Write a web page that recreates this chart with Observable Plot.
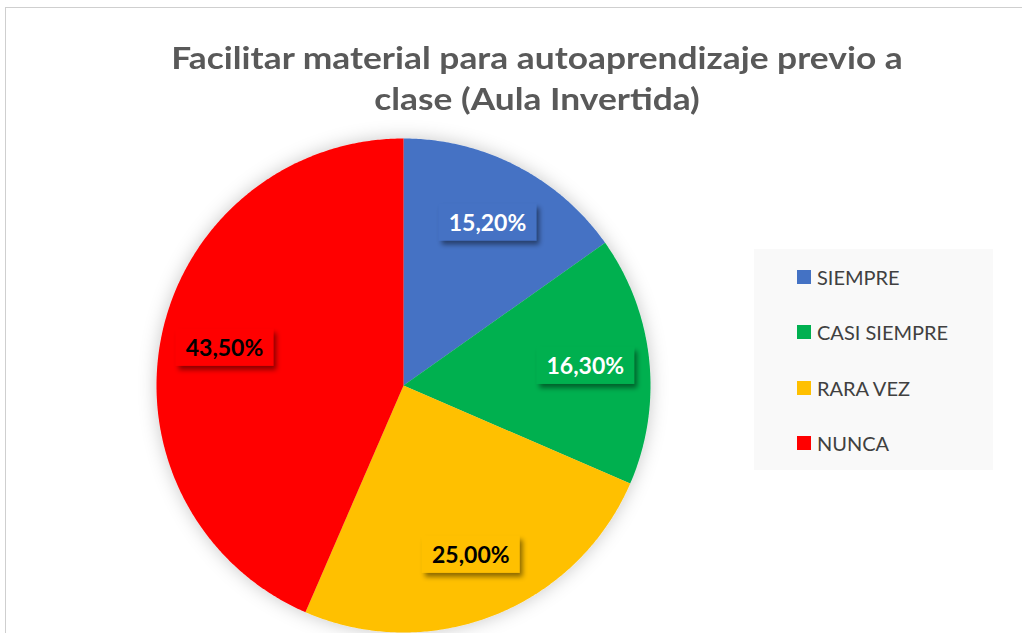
<!DOCTYPE html>
<html>
<head>
<meta charset="utf-8">
<script src="https://cdn.jsdelivr.net/npm/d3@7"></script>
<script src="https://cdn.jsdelivr.net/npm/@observablehq/plot@0.6"></script>
<style>
  html, body { margin: 0; padding: 0; background: #ffffff; }
  #wrap { position: relative; width: 1022px; height: 633px; overflow: hidden; background: #fff; font-family: Lato, "Open Sans", sans-serif; }
  #frame { position: absolute; left: 5px; top: 7px; width: 1100px; height: 700px; border-left: 1.5px solid #cfcfcf; border-top: 1.5px solid #cfcfcf; }
  #title { position: absolute; left: 0; top: 37px; width: 1074px; text-align: center; font-weight: 700; font-size: 31px; line-height: 41px; color: #595959; transform: scaleX(1.14); transform-origin: 537px 0; }
  #chart { position: absolute; left: 0; top: 0; }
  #legend { position: absolute; left: 754px; top: 249px; width: 239px; height: 221px; background: #f9f9f9; }
  .item { position: absolute; left: 43px; height: 20px; display: flex; align-items: center; font-size: 20px; color: #404040; white-space: nowrap; }
  .sw { width: 14px; height: 14px; margin-right: 6px; flex: none; }
</style>
</head>
<body>
<div id="wrap">
  <div id="frame"></div>
  <div id="chart"></div>
  <div id="title">Facilitar material para autoaprendizaje previo a<br>clase (Aula Invertida)</div>
  <div id="legend"></div>
</div>
<script>
const categories = ["SIEMPRE", "CASI SIEMPRE", "RARA VEZ", "NUNCA"];
const values = [15.2, 16.3, 25.0, 43.5];
const valueLabels = ["15,20%", "16,30%", "25,00%", "43,50%"];
const colors = ["#4472c4", "#00b050", "#ffc000", "#ff0000"];
const labelTextColors = ["#ffffff", "#ffffff", "#000000", "#000000"];

// layout (pixels)
const W = 1022, H = 633, cx = 403, cy = 385, R = 247;

// pie geometry from the values (clockwise from 12 o'clock)
const arcs = d3.pie().sort(null).value(d => d)(values);
const wedgePts = [];
arcs.forEach((a, i) => {
  wedgePts.push({cat: categories[i], x: 0, y: 0});
  const n = Math.max(2, Math.ceil((a.endAngle - a.startAngle) / (Math.PI / 360)));
  for (let k = 0; k <= n; k++) {
    const t = a.startAngle + (a.endAngle - a.startAngle) * k / n;
    wedgePts.push({cat: categories[i], x: Math.sin(t), y: Math.cos(t)});
  }
});
const labelRows = arcs.map((a, i) => {
  const m = (a.startAngle + a.endAngle) / 2;
  const rr = 0.74;
  return {cat: categories[i], text: valueLabels[i], color: labelTextColors[i], x: rr * Math.sin(m), y: rr * Math.cos(m), idx: i};
});

const plot = Plot.plot({
  width: W, height: H,
  marginTop: 0, marginRight: 0, marginBottom: 0, marginLeft: 0,
  x: {domain: [-1, 1], range: [cx - R, cx + R], axis: null},
  y: {domain: [-1, 1], range: [cy + R, cy - R], axis: null},
  color: {domain: categories, range: colors},
  style: {background: "transparent", overflow: "visible"},
  marks: [
    Plot.line(wedgePts, {x: "x", y: "y", z: "cat", fill: "cat", stroke: null, curve: "linear-closed"}),
    Plot.text(labelRows, {x: "x", y: "y", text: "text", fill: d => d.color === "#ffffff" ? "white" : "black",
      fontSize: 23, fontWeight: 700, fontFamily: "Lato, sans-serif", textAnchor: "middle", lineAnchor: "middle"})
  ]
});
document.getElementById("chart").appendChild(plot);

// defs: shadows
const svg = d3.select(plot);
const defs = svg.insert("defs", ":first-child");
const f1 = defs.append("filter").attr("id", "pieShadow").attr("x", "-20%").attr("y", "-20%").attr("width", "140%").attr("height", "140%");
f1.append("feDropShadow").attr("dx", 0).attr("dy", 0).attr("stdDeviation", 9).attr("flood-color", "#000").attr("flood-opacity", 0.22);
const f2 = defs.append("filter").attr("id", "boxShadow").attr("x", "-30%").attr("y", "-40%").attr("width", "160%").attr("height", "190%");
f2.append("feDropShadow").attr("dx", 3).attr("dy", 4).attr("stdDeviation", 2.5).attr("flood-color", "#000").attr("flood-opacity", 0.45);

const lineG = plot.querySelector('g[aria-label="line"]');
if (lineG) lineG.setAttribute("filter", "url(#pieShadow)");

// label boxes behind the value labels
const textG = plot.querySelector('g[aria-label="text"]');
if (textG) {
  const texts = Array.from(textG.querySelectorAll("text"));
  texts.forEach((t, j) => {
    const b = t.getBBox();
    const padX = 10, padY = 5;
    const rect = document.createElementNS("http://www.w3.org/2000/svg", "rect");
    rect.setAttribute("x", b.x - padX);
    rect.setAttribute("y", b.y - padY + 1);
    rect.setAttribute("width", b.width + 2 * padX);
    rect.setAttribute("height", b.height + 2 * padY - 1);
    rect.setAttribute("fill", colors[labelRows[j].idx]);
    rect.setAttribute("filter", "url(#boxShadow)");
    const tr = t.getAttribute("transform");
    if (tr) rect.setAttribute("transform", tr);
    textG.insertBefore(rect, t);
  });
}

// legend
const legend = document.getElementById("legend");
const rowTops = [28, 83, 139, 194];
categories.forEach((c, i) => {
  const it = document.createElement("div");
  it.className = "item";
  it.style.top = (rowTops[i] - 10) + "px";
  const sw = document.createElement("span");
  sw.className = "sw";
  sw.style.background = colors[i];
  const tx = document.createElement("span");
  tx.textContent = c;
  it.appendChild(sw); it.appendChild(tx);
  legend.appendChild(it);
});
</script>
</body>
</html>
